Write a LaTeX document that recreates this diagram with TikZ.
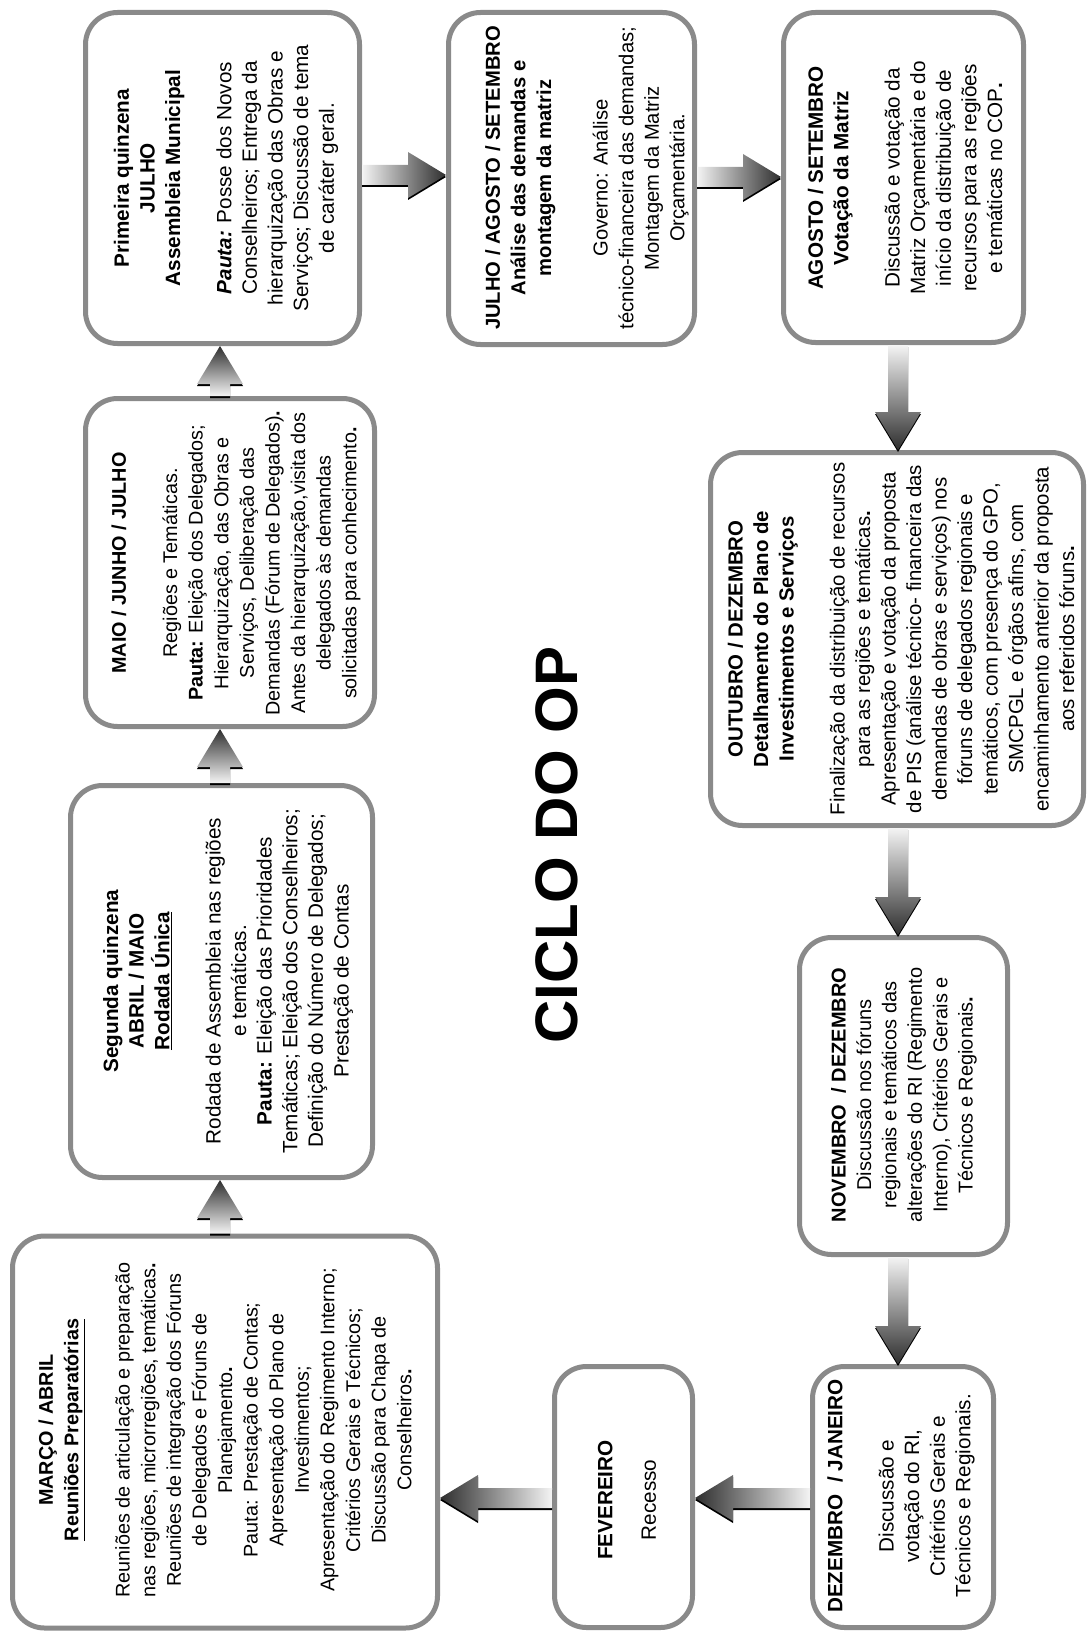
\documentclass[tikz,border=0pt]{standalone}
\usepackage{fontspec}
\setmainfont{Liberation Sans}
\usetikzlibrary{calc}
\definecolor{boxgray}{HTML}{8A8A8A}
\definecolor{arrlight}{HTML}{F4F4F4}
\definecolor{arrdark}{HTML}{2E2E2E}
\tikzset{
  box/.style={draw=boxgray, line width=5pt, rounded corners=32pt, fill=white, rectangle, inner sep=0pt},
  txt/.style={rotate=90, align=center, inner sep=0pt, font=\fontsize{20.7}{25.6}\selectfont},
  upsh/.style={top color=arrdark, bottom color=arrlight},
  downsh/.style={top color=arrlight, bottom color=arrdark},
  rightsh/.style={left color=arrlight, right color=arrdark},
  leftsh/.style={left color=arrdark, right color=arrlight},
}
\def\baPath{($(ba-t)!10pt!90:(ba-p)$) -- ($(ba-h)!10pt!90:(ba-p)$) -- ($(ba-h)!23pt!90:(ba-p)$) -- (ba-p) -- ($(ba-h)!23pt!-90:(ba-p)$) -- ($(ba-h)!10pt!-90:(ba-p)$) -- ($(ba-t)!10pt!-90:(ba-p)$) -- cycle}
\newcommand\blockarrow[3]{%
  \coordinate (ba-t) at #1;
  \coordinate (ba-p) at #2;
  \coordinate (ba-h) at ($(ba-p)!38pt!(ba-t)$);
  \fill[black, transform canvas={yshift=-2pt}] \baPath;
  \shade[#3] \baPath;
}
\begin{document}
\begin{tikzpicture}[x=1pt, y=-1pt]
\useasboundingbox (0,0) rectangle (1087,1632);

% boxes
\node[box, minimum width=425, minimum height=392] (b1) at (225,1432) {};
\node[box, minimum width=302, minimum height=392] (b2) at (221.5,981.5) {};
\node[box, minimum width=289, minimum height=328] (b3) at (230,562.5) {};
\node[box, minimum width=274, minimum height=331] (b4) at (222.5,178) {};
\node[box, minimum width=246, minimum height=332] (b5) at (571.5,178.5) {};
\node[box, minimum width=240, minimum height=330] (b6) at (903.5,177.5) {};
\node[box, minimum width=373, minimum height=373] (b7) at (897,639) {};
\node[box, minimum width=208, minimum height=317] (b8) at (903.5,1096) {};
\node[box, minimum width=181, minimum height=261] (b9) at (903,1497) {};
\node[box, minimum width=138, minimum height=261] (b10) at (623.5,1497) {};

% texts
\node[txt, font=\fontsize{19.8}{25.6}\selectfont] (t1) at (225,1430) {%
\textbf{MARÇO / ABRIL}\\ \textbf{\underline{Reuniões Preparatórias}}\\[25.6pt]
Reuniões de articulação e preparação\\ nas regiões, microrregiões, temáticas\textbf{.}\\
Reuniões de integração dos Fóruns\\ de Delegados e Fóruns de\\ Planejamento\textbf{.}\\
Pauta: Prestação de Contas;\\ Apresentação do Plano de\\ Investimentos;\\
Apresentação do Regimento Interno;\\ Critérios Gerais e Técnicos;\\ Discussão para Chapa de\\ Conselheiros\textbf{.}};

\node[txt] (t2) at (228,981) {%
\textbf{Segunda quinzena}\\ \textbf{ABRIL / MAIO}\\ \textbf{\underline{Rodada Única}}\\[25.6pt]
Rodada de Assembleia nas regiões\\ e temáticas.\\ \textbf{Pauta:} Eleição das Prioridades\\
Temáticas; Eleição dos Conselheiros;\\ Definição do Número de Delegados;\\ Prestação de Contas};

\node[txt, font=\fontsize{19.8}{25.6}\selectfont] (t3) at (236,563) {%
\textbf{MAIO / JUNHO / JULHO}\\[25.6pt]
Regiões e Temáticas.\\ \textbf{Pauta:} Eleição dos Delegados;\\ Hierarquização, das Obras e\\
Serviços, Deliberação das\\ Demandas (Fórum de Delegados)\textbf{.}\\ Antes da hierarquização,visita dos\\
delegados às demandas\\ solicitadas para conhecimento\textbf{.}};

\node[txt] (t4) at (226,178) {%
\textbf{Primeira quinzena}\\ \textbf{JULHO}\\ \textbf{Assembleia Municipal}\\[25.6pt]
\textbf{\textit{Pauta:}} Posse dos Novos\\ Conselheiros; Entrega da\\ hierarquização das Obras e\\
Serviços; Discussão de tema\\ de caráter geral.};

\node[txt, font=\fontsize{20.2}{25.6}\selectfont] (t5) at (587,178) {%
\textbf{JULHO / AGOSTO / SETEMBRO}\\ \textbf{Análise das demandas e}\\ \textbf{montagem da matriz}\\[31pt]
Governo: Análise\\ técnico-financeira das demandas;\\ Montagem da Matriz\\ Orçamentária.};

\node[txt] (t6) at (905,178) {%
\textbf{AGOSTO / SETEMBRO}\\ \textbf{Votação da Matriz}\\[25.6pt]
Discussão e votação da\\ Matriz Orçamentária e do\\ início da distribuição de\\
recursos para as regiões\\ e temáticas no COP\textbf{.}};

\node[txt, font=\fontsize{20.4}{25.5}\selectfont] (t7) at (901,639) {%
\textbf{OUTUBRO / DEZEMBRO}\\ \textbf{Detalhamento do Plano de}\\ \textbf{Investimentos e Serviços}\\[25.5pt]
Finalização da distribuição de recursos\\ para as regiões e temáticas\textbf{.}\\
Apresentação e votação da proposta\\ de PIS (análise técnico- financeira das\\
demandas de obras e serviços) nos\\ fóruns de delegados regionais e\\
temáticos, com presença do GPO,\\ SMCPGL e órgãos afins, com\\
encaminhamento anterior da proposta\\ aos referidos fóruns\textbf{.}};

\node[txt, font=\fontsize{20}{25.4}\selectfont] (t8) at (904,1095) {%
\textbf{NOVEMBRO\ \ / DEZEMBRO}\\ Discussão nos fóruns\\ regionais e temáticos das\\
alterações do RI (Regimento\\ Interno), Critérios Gerais e\\ Técnicos e Regionais\textbf{.}};

\node[txt] (t9) at (901,1496) {%
\textbf{DEZEMBRO\ \ / JANEIRO}\\[25.6pt]
Discussão e\\ votação do RI,\\ Critérios Gerais e\\ Técnicos e Regionais.};

\node[txt] (t10) at (627,1500) {\textbf{FEVEREIRO}\\[18pt] Recesso};

\node[rotate=90, inner sep=0pt, font=\fontsize{60}{72}\selectfont\bfseries] (title) at (557,845) {CICLO DO OP};

% arrows
\blockarrow{($(b1.north)+(-5,0)$)}{($(b2.south)+(-1.5,0)$)}{upsh}
\blockarrow{($(b2.north)+(-1.5,0)$)}{($(b3.south)+(-10,0)$)}{upsh}
\blockarrow{($(b3.north)+(-10,0)$)}{($(b4.south)+(-2.5,0)$)}{upsh}
\blockarrow{($(b4.east)+(0,-3)$)}{($(b5.west)+(0,-3.5)$)}{rightsh}
\blockarrow{($(b5.east)+(0,-1.5)$)}{($(b6.west)+(0,-0.5)$)}{rightsh}
\blockarrow{($(b6.south)+(-5.5,0)$)}{($(b7.north)+(1,0)$)}{downsh}
\blockarrow{($(b7.south)+(1,0)$)}{($(b8.north)+(-5.5,0)$)}{downsh}
\blockarrow{($(b8.south)+(-5.5,0)$)}{($(b9.north)+(-5,0)$)}{downsh}
\blockarrow{($(b9.west)+(0,1)$)}{($(b10.east)+(0,1)$)}{leftsh}
\blockarrow{($(b10.west)+(0,1)$)}{($(b1.east)+(0,66)$)}{leftsh}
\end{tikzpicture}
\end{document}
